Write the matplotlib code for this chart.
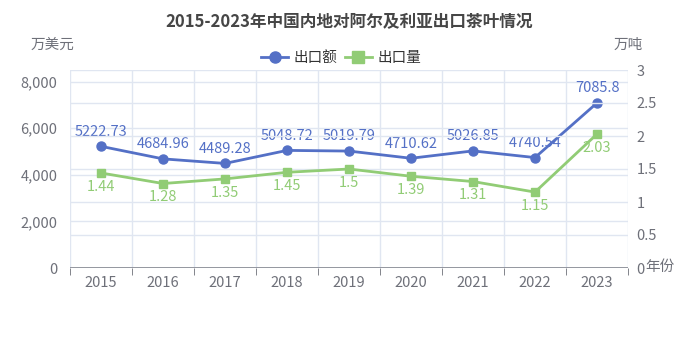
import matplotlib
matplotlib.use("Agg")
import matplotlib.pyplot as plt
import numpy as np

plt.rcParams["font.family"] = ["Noto Sans CJK SC", "DejaVu Sans"]

years = ["2015", "2016", "2017", "2018", "2019", "2020", "2021", "2022", "2023"]
export_value = [5222.73, 4684.96, 4489.28, 5048.72, 5019.79, 4710.62, 5026.85, 4740.54, 7085.8]
export_volume = [1.44, 1.28, 1.35, 1.45, 1.5, 1.39, 1.31, 1.15, 2.03]
value_labels = ["5222.73", "4684.96", "4489.28", "5048.72", "5019.79", "4710.62", "5026.85", "4740.54", "7085.8"]
volume_labels = ["1.44", "1.28", "1.35", "1.45", "1.5", "1.39", "1.31", "1.15", "2.03"]
left_ticks = [0, 2000, 4000, 6000, 8000]
right_ticks = [0, 0.5, 1, 1.5, 2, 2.5, 3]

BLUE = "#5470c6"
GREEN = "#91cc75"
GRID = "#e0e6f1"
AXIS_TXT = "#6e7079"
FS = 10.5

W, H = 698, 349
fig = plt.figure(figsize=(W / 100, H / 100), dpi=100)
ax = fig.add_axes([70 / W, 1 - 268 / H, 558 / W, 198 / H])
ax2 = ax.twinx()

x = np.arange(len(years))
ax.set_xlim(-0.5, len(years) - 0.5)
ax.set_ylim(0, 8500)
ax2.set_ylim(0, 3)

# grid lines from both value axes plus category boundaries
for v in left_ticks:
    ax.axhline(v, color=GRID, lw=1, zorder=0)
for v in right_ticks:
    ax2.axhline(v, color=GRID, lw=1, zorder=0)
for b in np.arange(-0.5, len(years), 1.0):
    ax.axvline(b, color=GRID, lw=1, zorder=0)

for a in (ax, ax2):
    for s in ("top", "left", "right", "bottom"):
        a.spines[s].set_visible(False)
ax.axhline(0, color=AXIS_TXT, lw=1.2, zorder=3)

ax.set_xticks(x)
ax.set_xticklabels(years)
ax.set_xticks(np.arange(-0.5, len(years), 1.0), minor=True)
ax.tick_params(axis="x", which="major", length=0, labelsize=FS, labelcolor=AXIS_TXT, pad=6)
ax.tick_params(axis="x", which="minor", length=5, color=AXIS_TXT, direction="out")

ax.set_yticks(left_ticks)
ax.set_yticklabels([f"{v:,}" for v in left_ticks])
ax.tick_params(axis="y", length=0, labelsize=FS, labelcolor=AXIS_TXT, pad=9)
ax2.set_yticks(right_ticks)
ax2.set_yticklabels(["0", "0.5", "1", "1.5", "2", "2.5", "3"])
ax2.tick_params(axis="y", length=0, labelsize=FS, labelcolor=AXIS_TXT, pad=6)

ax.plot(x, export_value, color=BLUE, lw=2, marker="o", ms=6.5, zorder=5, clip_on=False)
ax2.plot(x, export_volume, color=GREEN, lw=2, marker="s", ms=6, zorder=5, clip_on=False)

for xi, v, t in zip(x, export_value, value_labels):
    ax.annotate(t, (xi, v), xytext=(0, 5.5), textcoords="offset points",
                ha="center", va="bottom", color=BLUE, fontsize=FS, zorder=6)
for xi, v, t in zip(x, export_volume, volume_labels):
    ax2.annotate(t, (xi, v), xytext=(0, -5), textcoords="offset points",
                 ha="center", va="top", color=GREEN, fontsize=FS, zorder=6)

fig.text(349 / W, 1 - 22 / H, "2015-2023年中国内地对阿尔及利亚出口茶叶情况",
         ha="center", va="center", fontsize=12, fontweight="bold", color="#464646")
fig.text(52 / W, 1 - 45 / H, "万美元", ha="center", va="center", fontsize=FS, color=AXIS_TXT)
fig.text(628 / W, 1 - 45 / H, "万吨", ha="center", va="center", fontsize=FS, color=AXIS_TXT)
fig.text(645 / W, 1 - 267 / H, "年份", ha="left", va="center", fontsize=FS, color=AXIS_TXT)

# legend
h1, = ax.plot([], [], color=BLUE, lw=2, marker="o", ms=8)
h2, = ax.plot([], [], color=GREEN, lw=2, marker="s", ms=8)
fig.legend([h1, h2], ["出口额", "出口量"], loc="center", bbox_to_anchor=(341 / W, 1 - 58 / H),
           ncol=2, frameon=False, fontsize=FS, handlelength=1.9, columnspacing=0.5,
           handletextpad=0.35, labelcolor="#333333")

fig.savefig("out.png", dpi=100)
